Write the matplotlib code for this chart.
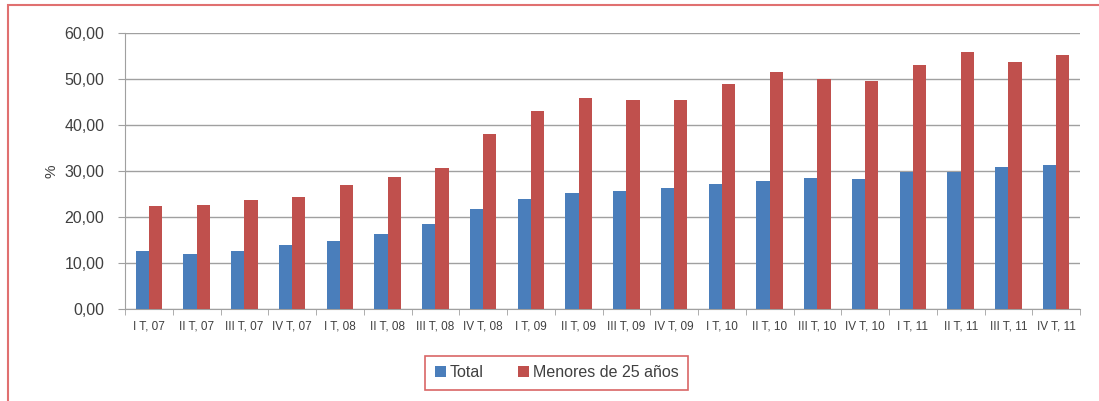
import matplotlib.pyplot as plt
import matplotlib.patches as mpatches
import numpy as np

plt.rcParams['font.family'] = ['Liberation Sans Narrow', 'Liberation Sans', 'DejaVu Sans']

categories = ['I T, 07', 'II T, 07', 'III T, 07', 'IV T, 07',
              'I T, 08', 'II T, 08', 'III T, 08', 'IV T, 08',
              'I T, 09', 'II T, 09', 'III T, 09', 'IV T, 09',
              'I T, 10', 'II T, 10', 'III T, 10', 'IV T, 10',
              'I T, 11', 'II T, 11', 'III T, 11', 'IV T, 11']
total = [12.6, 11.9, 12.6, 13.9, 14.7, 16.4, 18.4, 21.8,
         24.0, 25.3, 25.6, 26.3, 27.2, 27.8, 28.5, 28.3,
         29.8, 29.8, 30.8, 31.2]
menores = [22.4, 22.7, 23.7, 24.4, 26.9, 28.6, 30.7, 38.1,
           43.1, 45.8, 45.5, 45.4, 48.9, 51.5, 50.0, 49.6,
           53.0, 55.9, 53.8, 55.2]

blue = '#4a7ebb'
red = '#c0504d'
grid_c = '#a0a0a0'
text_c = '#404040'

fig = plt.figure(figsize=(10.99, 4.01), dpi=100)
ax = fig.add_axes([125 / 1099, 1 - 309 / 401, 955 / 1099, 276 / 401])

x = np.arange(len(categories))
w = 0.28
ax.bar(x - w / 2, total, w, color=blue, label='Total', zorder=3)
ax.bar(x + w / 2, menores, w, color=red, label='Menores de 25 años', zorder=3)

ax.set_xlim(-0.5, len(categories) - 0.5)
ax.set_ylim(0, 60)
ax.set_yticks(np.arange(0, 61, 10))
ax.set_yticklabels([f'{v:.2f}'.replace('.', ',') for v in np.arange(0, 61, 10)],
                   fontsize=11.5, color=text_c)
ax.yaxis.grid(True, color=grid_c, linewidth=1, zorder=0)

ax.set_xticks(x)
ax.set_xticklabels(categories, fontsize=8.5, color=text_c)
ax.set_xticks(np.arange(-0.5, len(categories)), minor=True)
ax.tick_params(axis='x', which='major', length=0, pad=8)
ax.tick_params(axis='x', which='minor', length=4, color=grid_c)
ax.tick_params(axis='y', length=5, color=grid_c, pad=10)

for s in ['top', 'right']:
    ax.spines[s].set_visible(False)
for s in ['left', 'bottom']:
    ax.spines[s].set_color(grid_c)

ax.set_ylabel('%', fontsize=11, color=text_c, labelpad=4)

leg = ax.legend(loc='upper center', bbox_to_anchor=(0.452, -0.14), ncol=2,
                frameon=True, fancybox=False, fontsize=11.5, handlelength=0.7,
                handleheight=0.7, columnspacing=2.2, handletextpad=0.2,
                borderpad=0.6)
leg.get_frame().set_edgecolor('#d04040')
leg.get_frame().set_linewidth(1.2)
for t in leg.get_texts():
    t.set_color(text_c)

# outer red frame
frame = mpatches.Rectangle((8 / 1099, -0.1), 1.2, 1 - 5 / 401 + 0.1,
                           transform=fig.transFigure, fill=False,
                           edgecolor='#e07070', linewidth=1.5)
fig.patches.append(frame)

fig.savefig('out.png', dpi=100)
